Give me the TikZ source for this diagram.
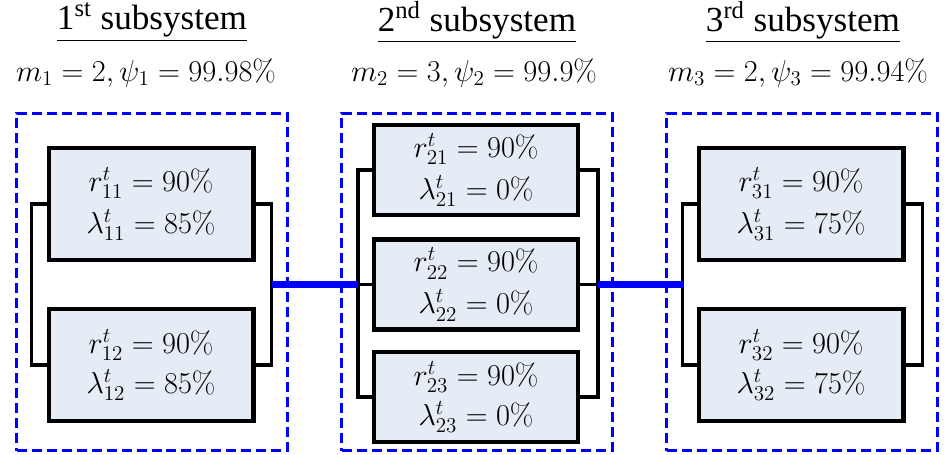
\documentclass[tikz,border=0pt]{standalone}
\usepackage[no-math]{fontspec}
\setmainfont{Liberation Serif}
\usetikzlibrary{positioning, calc}
\definecolor{cellfill}{RGB}{230,236,246}

\begin{document}
\begin{tikzpicture}[x=0.02cm, y=-0.02cm]
    \tikzset{
        cell/.style={draw, fill=cellfill, line width=2.3pt, rectangle, minimum width=4.1cm, minimum height=2.24cm, align=center, font=\fontsize{18.5}{22}\selectfont},
        cellsm/.style={cell, font=\fontsize{17}{21}\selectfont},
        frame/.style={draw=blue, dash pattern=on 0.2cm off 0.1cm, line width=1.7pt, rectangle, minimum width=5.42cm, minimum height=6.76cm},
        wire/.style={line width=2pt},
        link/.style={draw=blue, line width=3.6pt},
        title/.style={font=\fontsize{20}{24}\selectfont},
        spec/.style={font=\fontsize{18.6}{22}\selectfont}
    }
    \useasboundingbox (0,0) rectangle (947,455);

    % --- Marcos de los subsistemas ---
    \node [frame] (f1) at (152,282) {};
    \node [frame] (f2) at (477,282) {};
    \node [frame] (f3) at (802,282) {};

    % --- Titulos ---
    \node [title] (t1) at (152,22) {\underline{1\textsuperscript{st} subsystem}};
    \node [title] (t2) at (477,22) {\underline{2\textsuperscript{nd} subsystem}};
    \node [title] (t3) at (803,22) {\underline{3\textsuperscript{rd} subsystem}};
    \node [spec] (p1) at (146,73) {$m_1 = 2, \psi_1 = 99.98\%$};
    \node [spec] (p2) at (474,73) {$m_2 = 3, \psi_2 = 99.9\%$};
    \node [spec] (p3) at (798,73) {$m_3 = 2, \psi_3 = 99.94\%$};

    % --- Subsistema 1 ---
    \node [cell] (c11) at (151,204) {$r^t_{11} = 90\%$\\[2pt]$\lambda^t_{11} = 85\%$};
    \node [cellsm] (c12) at (151,365) {$r^t_{12} = 90\%$\\[2pt]$\lambda^t_{12} = 85\%$};
    \draw [wire] (c11.west) -- ++(-15,0) |- (c12.west);
    \draw [wire] (c11.east) -- ++(16,0) coordinate (r1top) |- (c12.east);
    \coordinate (o1) at ($(r1top)!0.5!(r1top |- c12.east)$);

    % --- Subsistema 2 ---
    \node [cell, minimum width=4.08cm, minimum height=1.8cm] (c21) at (476,170) {$r^t_{21} = 90\%$\\[2pt]$\lambda^t_{21} = 0\%$};
    \node [cell, minimum width=4.08cm, minimum height=1.8cm] (c22) at (476,284.5) {$r^t_{22} = 90\%$\\[2pt]$\lambda^t_{22} = 0\%$};
    \node [cellsm, minimum width=4.08cm, minimum height=1.8cm] (c23) at (476,397) {$r^t_{23} = 90\%$\\[2pt]$\lambda^t_{23} = 0\%$};
    \draw [wire] (c21.west) -- ++(-14,0) coordinate (l2top) |- (c23.west);
    \draw [wire] (c22.west) -- (c22.west -| l2top) coordinate (i2);
    \draw [wire] (c21.east) -- ++(18,0) coordinate (r2top) |- (c23.east);
    \draw [wire] (c22.east) -- (c22.east -| r2top) coordinate (o2);

    % --- Subsistema 3 ---
    \node [cell] (c31) at (801,204) {$r^t_{31} = 90\%$\\[2pt]$\lambda^t_{31} = 75\%$};
    \node [cellsm] (c32) at (801,365) {$r^t_{32} = 90\%$\\[2pt]$\lambda^t_{32} = 75\%$};
    \draw [wire] (c31.west) -- ++(-14,0) coordinate (l3top) |- (c32.west);
    \draw [wire] (c31.east) -- ++(17,0) |- (c32.east);
    \coordinate (i3) at (l3top |- o2);

    % --- Conexiones en serie ---
    \draw [link] (o1) -- (o1 -| i2);
    \draw [link] (o2) -- (i3);
\end{tikzpicture}
\end{document}
